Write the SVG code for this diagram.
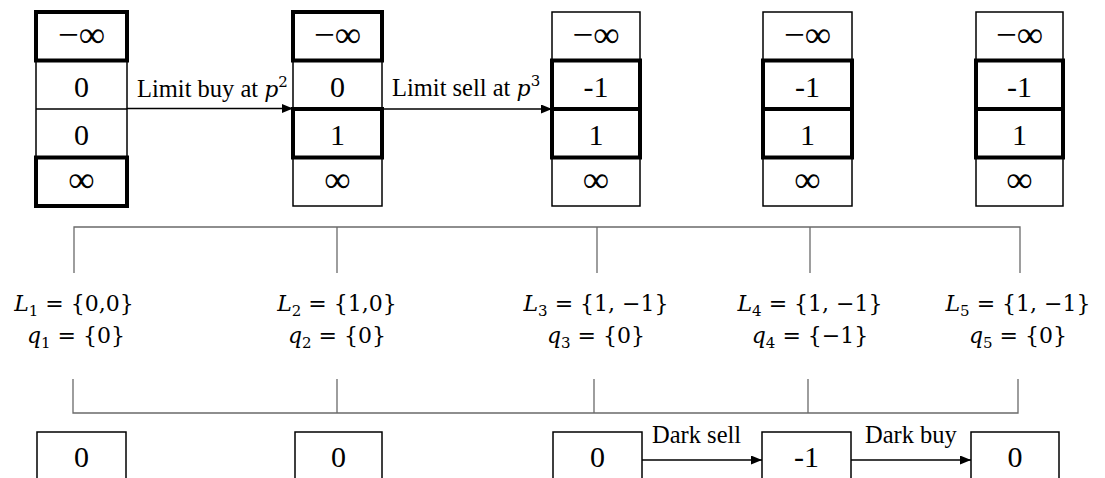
<svg xmlns="http://www.w3.org/2000/svg" width="1105" height="478" viewBox="0 0 1105 478">
  <style>
    .cell { fill: none; stroke: #000; stroke-width: 1.5; }
    .hi { fill: none; stroke: #000; stroke-width: 4; }
    .num { font-family: "Liberation Serif", "Times New Roman", serif; font-size: 30px; text-anchor: middle; fill: #000; }
    .inf { font-size: 37px; }
    .lbl { font-family: "Liberation Serif", "Times New Roman", serif; font-size: 24.5px; fill: #000; }
    .it { font-family: "DejaVu Serif", serif; font-style: italic; font-size: 22px; }
    .sup { font-family: "DejaVu Serif", serif; font-size: 15px; }
    .math { font-family: "DejaVu Serif", serif; font-size: 22px; text-anchor: middle; fill: #000; }
    .var { font-style: italic; }
    .sub { font-size: 15px; }
    .brk { fill: none; stroke: #6a6a6a; stroke-width: 1.3; }
    .arr { fill: none; stroke: #000; stroke-width: 1.5; marker-end: url(#ah); }
  </style>
  <defs>
    <marker id="ah" markerUnits="userSpaceOnUse" markerWidth="11" markerHeight="9" refX="11" refY="4.5" orient="auto">
      <path d="M0,0 L11,4.5 L0,9 Z" fill="#000"/>
    </marker>
  </defs>

  <!-- order book columns -->
  <g id="book1">
    <rect class="cell" x="36" y="12" width="91" height="194"/>
    <path class="cell" d="M36,60.5 H127 M36,109 H127 M36,157.5 H127"/>
    <rect class="hi" x="36" y="12" width="91" height="48.5"/>
    <rect class="hi" x="36" y="157.5" width="91" height="48.5"/>
    <text class="num inf" x="81.5" y="47">−∞</text>
    <text class="num" x="81.5" y="96.5">0</text>
    <text class="num" x="81.5" y="145">0</text>
    <text class="num inf" x="81.5" y="192">∞</text>
  </g>
  <g id="book2">
    <rect class="cell" x="293" y="12" width="89" height="194"/>
    <path class="cell" d="M293,60.5 H382 M293,109 H382 M293,157.5 H382"/>
    <rect class="hi" x="293" y="12" width="89" height="48.5"/>
    <rect class="hi" x="293" y="109" width="89" height="48.5"/>
    <text class="num inf" x="337.5" y="47">−∞</text>
    <text class="num" x="337.5" y="96.5">0</text>
    <text class="num" x="337.5" y="145">1</text>
    <text class="num inf" x="337.5" y="192">∞</text>
  </g>
  <g id="book3">
    <rect class="cell" x="552" y="12" width="88" height="194"/>
    <path class="cell" d="M552,60.5 H640 M552,109 H640 M552,157.5 H640"/>
    <rect class="hi" x="552" y="60.5" width="88" height="48.5"/>
    <rect class="hi" x="552" y="109" width="88" height="48.5"/>
    <text class="num inf" x="596" y="47">−∞</text>
    <text class="num" x="596" y="96.5">-1</text>
    <text class="num" x="596" y="145">1</text>
    <text class="num inf" x="596" y="192">∞</text>
  </g>
  <g id="book4">
    <rect class="cell" x="763" y="12" width="89" height="194"/>
    <path class="cell" d="M763,60.5 H852 M763,109 H852 M763,157.5 H852"/>
    <rect class="hi" x="763" y="60.5" width="89" height="48.5"/>
    <rect class="hi" x="763" y="109" width="89" height="48.5"/>
    <text class="num inf" x="807.5" y="47">−∞</text>
    <text class="num" x="807.5" y="96.5">-1</text>
    <text class="num" x="807.5" y="145">1</text>
    <text class="num inf" x="807.5" y="192">∞</text>
  </g>
  <g id="book5">
    <rect class="cell" x="976" y="12" width="87" height="194"/>
    <path class="cell" d="M976,60.5 H1063 M976,109 H1063 M976,157.5 H1063"/>
    <rect class="hi" x="976" y="60.5" width="87" height="48.5"/>
    <rect class="hi" x="976" y="109" width="87" height="48.5"/>
    <text class="num inf" x="1019.5" y="47">−∞</text>
    <text class="num" x="1019.5" y="96.5">-1</text>
    <text class="num" x="1019.5" y="145">1</text>
    <text class="num inf" x="1019.5" y="192">∞</text>
  </g>

  <!-- state labels -->
  <g id="state1">
    <text class="math" x="74" y="311"><tspan class="var">L</tspan><tspan class="sub" dy="5">1</tspan><tspan dy="-5"> = {0,0}</tspan></text>
    <text class="math" x="76" y="343"><tspan class="var">q</tspan><tspan class="sub" dy="5">1</tspan><tspan dy="-5"> = {0}</tspan></text>
  </g>
  <g id="state2">
    <text class="math" x="337" y="311"><tspan class="var">L</tspan><tspan class="sub" dy="5">2</tspan><tspan dy="-5"> = {1,0}</tspan></text>
    <text class="math" x="337" y="343"><tspan class="var">q</tspan><tspan class="sub" dy="5">2</tspan><tspan dy="-5"> = {0}</tspan></text>
  </g>
  <g id="state3">
    <text class="math" x="596" y="311"><tspan class="var">L</tspan><tspan class="sub" dy="5">3</tspan><tspan dy="-5"> = {1, −1}</tspan></text>
    <text class="math" x="596" y="343"><tspan class="var">q</tspan><tspan class="sub" dy="5">3</tspan><tspan dy="-5"> = {0}</tspan></text>
  </g>
  <g id="state4">
    <text class="math" x="810" y="311"><tspan class="var">L</tspan><tspan class="sub" dy="5">4</tspan><tspan dy="-5"> = {1, −1}</tspan></text>
    <text class="math" x="810" y="343"><tspan class="var">q</tspan><tspan class="sub" dy="5">4</tspan><tspan dy="-5"> = {−1}</tspan></text>
  </g>
  <g id="state5">
    <text class="math" x="1018" y="311"><tspan class="var">L</tspan><tspan class="sub" dy="5">5</tspan><tspan dy="-5"> = {1, −1}</tspan></text>
    <text class="math" x="1018" y="343"><tspan class="var">q</tspan><tspan class="sub" dy="5">5</tspan><tspan dy="-5"> = {0}</tspan></text>
  </g>

  <!-- dark pool inventory boxes -->
  <g id="dark1">
    <rect class="cell" x="37" y="432" width="89" height="60"/>
    <text class="num" x="81.5" y="467">0</text>
  </g>
  <g id="dark2">
    <rect class="cell" x="295" y="432" width="87" height="60"/>
    <text class="num" x="338.5" y="467">0</text>
  </g>
  <g id="dark3">
    <rect class="cell" x="553" y="432" width="89" height="60"/>
    <text class="num" x="597.5" y="467">0</text>
  </g>
  <g id="dark4">
    <rect class="cell" x="762" y="432" width="89" height="60"/>
    <text class="num" x="806.5" y="467">-1</text>
  </g>
  <g id="dark5">
    <rect class="cell" x="971" y="432" width="88" height="60"/>
    <text class="num" x="1015" y="467">0</text>
  </g>

  <g id="connectors">
    <!-- brackets tying books, states and dark inventories together -->
    <path class="brk" d="M74,273 V227 H1020 V273 M337,227 V273 M597,227 V273 M810,227 V273"/>
    <path class="brk" d="M73,379 V413 H1018 V379 M337,379 V413 M594,379 V413 M808,379 V413"/>
    <!-- transitions -->
    <line class="arr" x1="127" y1="108.5" x2="293" y2="108.5"/>
    <line class="arr" x1="382" y1="109" x2="552" y2="109"/>
    <line class="arr" x1="642" y1="460" x2="762" y2="460"/>
    <line class="arr" x1="851" y1="460" x2="971" y2="460"/>
    <text class="lbl" x="137" y="97">Limit buy at <tspan class="it">p</tspan><tspan class="sup" dy="-10">2</tspan></text>
    <text class="lbl" x="392" y="96">Limit sell at <tspan class="it">p</tspan><tspan class="sup" dy="-10">3</tspan></text>
    <text class="lbl" x="652" y="443">Dark sell</text>
    <text class="lbl" x="865" y="443">Dark buy</text>
  </g>
</svg>
